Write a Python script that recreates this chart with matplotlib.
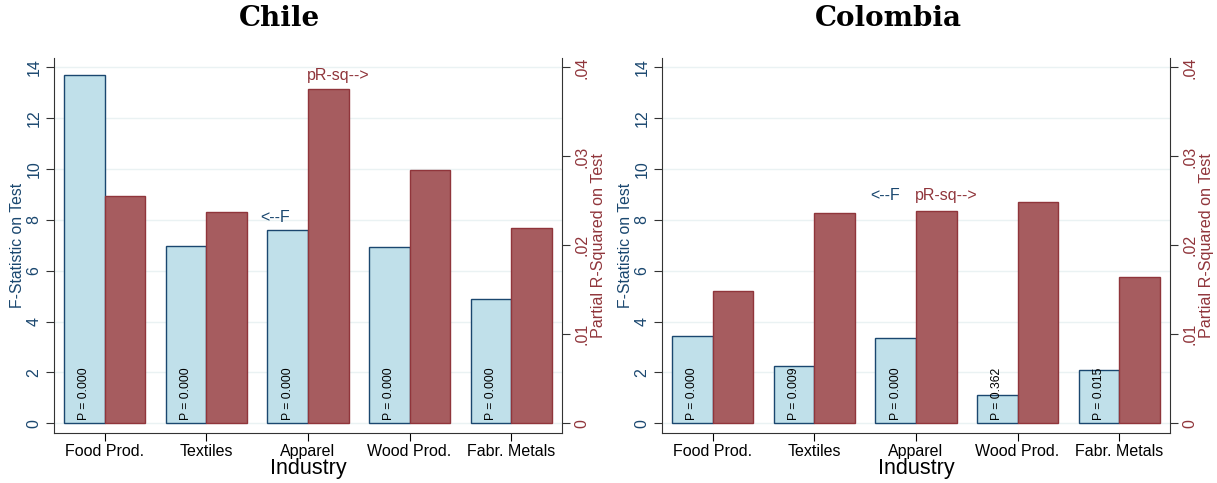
import numpy as np
import matplotlib.pyplot as plt

plt.rcParams['font.family'] = ['Liberation Sans', 'DejaVu Sans']

# industries and test results by country
industries = ['Food Prod.', 'Textiles', 'Apparel', 'Wood Prod.', 'Fabr. Metals']

chile_f = [13.71, 6.97, 7.59, 6.94, 4.88]
chile_prsq = [0.0255, 0.0237, 0.0376, 0.0285, 0.0220]
chile_p = ['0.000', '0.000', '0.000', '0.000', '0.000']

colombia_f = [3.42, 2.25, 3.35, 1.10, 2.11]
colombia_prsq = [0.0149, 0.0236, 0.0239, 0.0249, 0.0165]
colombia_p = ['0.000', '0.009', '0.000', '0.362', '0.015']

navy = '#1a476f'
maroon = '#90353b'
blue_fill = '#c0e0ea'
red_fill = '#a65c5f'
grid_col = '#eaf2f3'

fig = plt.figure(figsize=(12.17, 4.83), dpi=100)
W, H = 1217, 483


def panel(left, title, f_vals, pr_vals, p_vals, f_lab, pr_lab):
    ax = fig.add_axes([left / W, (H - 433) / H, 508 / W, 375 / H])
    x = np.arange(len(industries))
    ax.set_xlim(-0.5, 4.5)
    ax.set_ylim(-0.38, 14.37)
    ax.bar(x - 0.2, f_vals, width=0.4, color=blue_fill, edgecolor=navy,
           linewidth=1.0, zorder=3)
    ax.set_yticks(range(0, 15, 2))
    ax.set_yticklabels([str(v) for v in range(0, 15, 2)], rotation=90,
                       va='center', color=navy, fontsize=11.5)
    ax.tick_params(axis='y', colors='#333333', labelcolor=navy, length=6, pad=3)
    ax.grid(axis='y', color=grid_col, linewidth=1.0, zorder=0)
    ax.set_xticks(x)
    ax.set_xticklabels(industries, fontsize=11.5)
    ax.tick_params(axis='x', length=6, pad=2)
    ax.set_ylabel('F-Statistic on Test', color=navy, fontsize=11.3, labelpad=1)
    ax.set_xlabel('Industry', fontsize=15.5, labelpad=-1)
    ax.spines['top'].set_visible(False)
    ax.spines['right'].set_visible(False)
    for s in ('left', 'bottom'):
        ax.spines[s].set_color('#333333')

    # p-values written up each F bar
    for xi, p in zip(x, p_vals):
        ax.text(xi - 0.2, 0.12, 'P = ' + p, rotation=90, ha='center',
                va='bottom', fontsize=8.7, zorder=5)

    ax.text(f_lab[0], f_lab[1], '<--F', color=navy, fontsize=11.5,
            ha='right', va='center', zorder=5)

    ax2 = ax.twinx()
    scale = 0.04 / 14
    ax2.set_ylim(-0.38 * scale, 14.37 * scale)
    ax2.bar(x + 0.2, pr_vals, width=0.4, color=red_fill, edgecolor=maroon,
            linewidth=1.0, zorder=3)
    ax2.set_yticks([0, 0.01, 0.02, 0.03, 0.04])
    ax2.set_yticklabels(['0', '.01', '.02', '.03', '.04'], rotation=90,
                        va='center', fontsize=11.5)
    ax2.tick_params(axis='y', colors='#333333', labelcolor=maroon, length=6, pad=3)
    ax2.set_ylabel('Partial R-Squared on Test', color=maroon, fontsize=11.6,
                   labelpad=1)
    ax2.spines['top'].set_visible(False)
    ax2.spines['left'].set_visible(False)
    ax2.spines['bottom'].set_visible(False)
    ax2.spines['right'].set_color('#333333')
    ax2.text(pr_lab[0], pr_lab[1] * scale, 'pR-sq-->', color=maroon,
             fontsize=11.5, ha='left', va='center', zorder=5)

    fig.text((left + 226) / W, 1 - 19 / H, title, fontsize=20,
             fontweight='bold', family='DejaVu Serif', ha='center', va='center')


panel(54, 'Chile', chile_f, chile_prsq, chile_p, (1.82, 8.1), (1.99, 13.7))
panel(662, 'Colombia', colombia_f, colombia_prsq, colombia_p, (1.84, 8.95), (1.99, 8.98))

fig.savefig('out.png', dpi=100)
